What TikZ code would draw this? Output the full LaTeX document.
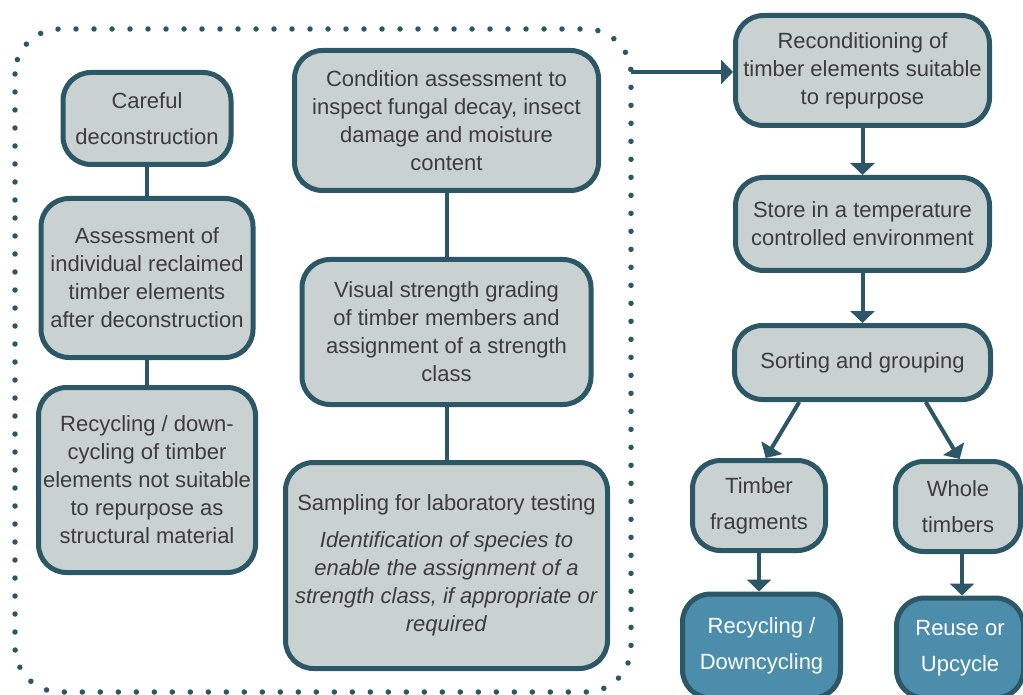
\documentclass[tikz,border=0pt]{standalone}
\usepackage{fontspec}
\setmainfont{Liberation Sans}
\usetikzlibrary{arrows.meta}
\definecolor{edge}{HTML}{2C5767}
\definecolor{boxfill}{HTML}{C9D1D1}
\definecolor{endfill}{HTML}{4B8DAA}
\definecolor{ink}{HTML}{3C3C3C}

\begin{document}
\begin{tikzpicture}[x=1pt,y=-1pt,
  stepbox/.style={draw=edge, fill=boxfill, line width=5pt, rounded corners=28pt,
    inner sep=0pt, align=center, text=ink, font=\fontsize{22}{28}\selectfont},
  widebox/.style={stepbox, font=\fontsize{22}{36}\selectfont},
  endbox/.style={widebox, fill=endfill, text=white},
  link/.style={draw=edge, line width=4pt},
  arrowlink/.style={link, -{Triangle[length=12pt,width=24pt]}},
  group/.style={draw=edge, line width=5.5pt, line cap=round,
    dash pattern=on 0pt off 18pt, rounded corners=45pt}
]
\useasboundingbox (0,0) rectangle (1023,695);
\clip (0,0) rectangle (1023,695);

% dotted frame around the assessment stage
\draw[group] (15,29) rectangle (631,692);
\coordinate (exit) at (631,72);

% left column
\node[widebox, minimum width=168pt, minimum height=92pt] (careful) at (147,118.5)
  {Careful\\deconstruction};
\node[stepbox, minimum width=212pt, minimum height=159pt] (assess) at (147,278)
  {Assessment of\\individual reclaimed\\timber elements\\after deconstruction};
\node[stepbox, minimum width=217pt, minimum height=185pt] (downcycle) at (147,480)
  {Recycling / down-\\cycling of timber\\elements not suitable\\to repurpose as\\structural material};

% middle column
\node[stepbox, minimum width=304pt, minimum height=140pt] (condition) at (446.5,120.5)
  {Condition assessment to\\inspect fungal decay, insect\\damage and moisture\\content};
\node[stepbox, minimum width=289pt, minimum height=145pt] (grading) at (446.5,332)
  {Visual strength grading\\of timber members and\\assignment of a strength\\class};
\node[stepbox, minimum width=322pt, minimum height=206pt] (sampling) at (446.5,565.5)
  {Sampling for laboratory testing\\[9pt]
   \textit{Identification of species to}\\
   \textit{enable the assignment of a}\\
   \textit{strength class, if appropriate or}\\
   \textit{required}};

% right column
\node[stepbox, minimum width=254pt, minimum height=110pt] (recon) at (862.5,70.5)
  {Reconditioning of\\timber elements suitable\\to repurpose};
\node[stepbox, minimum width=254pt, minimum height=93pt] (store) at (862.5,224)
  {Store in a temperature\\controlled environment};
\node[stepbox, minimum width=256pt, minimum height=74pt] (sort) at (862.5,362.5)
  {Sorting and grouping};
\node[widebox, minimum width=133pt, minimum height=90pt] (frag) at (759,505.5)
  {Timber\\fragments};
\node[widebox, minimum width=125pt, minimum height=90pt] (whole) at (958,506.5)
  {Whole\\timbers};
\node[endbox, minimum width=158pt, minimum height=104pt] (recend) at (761.5,646)
  {Recycling /\\Downcycling};
\node[endbox, minimum width=127pt, minimum height=100pt] (reuse) at (960,648)
  {Reuse or\\Upcycle};

% connectors
\draw[link] (careful) -- (assess);
\draw[link] (assess) -- (downcycle);
\draw[link] (condition) -- (grading);
\draw[link] (grading) -- (sampling);
\draw[arrowlink] (exit) -- (exit -| recon.west);
\draw[arrowlink] (recon) -- (store);
\draw[arrowlink] (store) -- (sort);
\draw[arrowlink] (sort.212) -- (frag.82);
\draw[arrowlink] (sort.328) -- (whole.88);
\draw[arrowlink] (frag.south) -- (frag.south |- recend.north);
\draw[arrowlink] ([xshift=4pt]whole.south) -- ([xshift=4pt]whole.south |- reuse.north);
\end{tikzpicture}
\end{document}
